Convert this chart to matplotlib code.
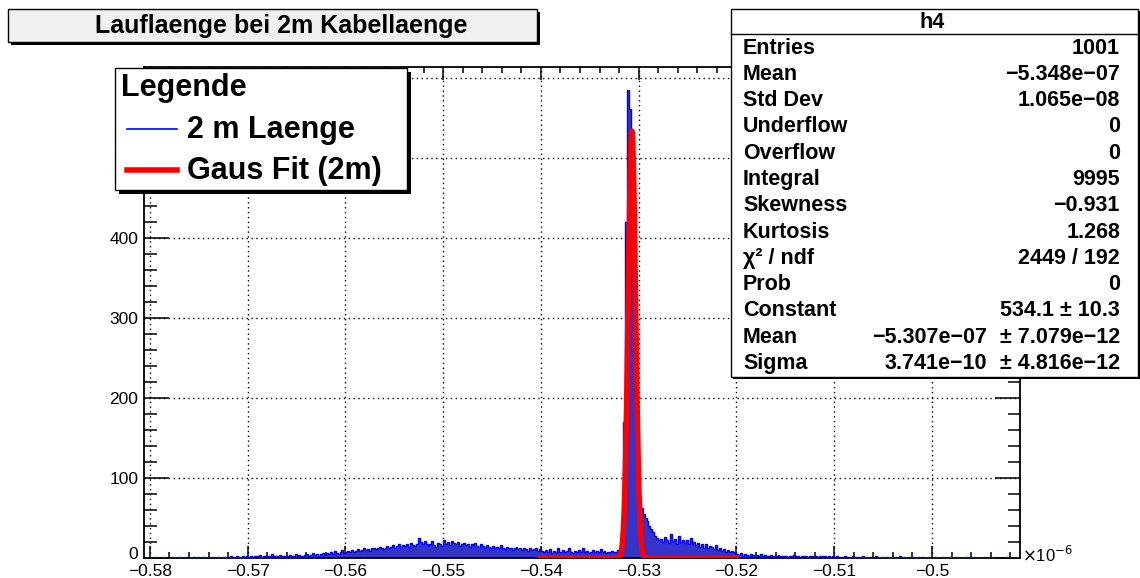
import numpy as np
import matplotlib
matplotlib.use("agg")
from matplotlib import pyplot as plt
from matplotlib.patches import Rectangle
from matplotlib.lines import Line2D
from matplotlib.ticker import MultipleLocator
from matplotlib.transforms import ScaledTranslation

plt.rcParams['font.family'] = ['Liberation Sans', 'DejaVu Sans']

W, H = 1140, 578

# histogram h4, x in units of 1e-6, bins of 2e-4
x_lo = -0.5806
bin_w = 0.0002
counts_edge = [0, 0, 0]
counts_058 = [0, 0, 1, 0, 0, 0, 1, 0, 0, 0, 0, 1, 0, 0, 0, 1, 0, 0, 1, 0,
              0, 0, 1, 0, 1, 0, 0, 1, 0, 0, 1, 0, 1, 0, 0, 1, 0, 1, 1, 0,
              1, 2, 1, 0, 2, 1, 1, 2, 1, 2]
counts_057 = [1, 2, 1, 3, 2, 2, 4, 1, 3, 2, 2, 3, 5, 2, 3, 2, 4, 3, 2, 3,
              3, 4, 2, 3, 5, 3, 4, 3, 2, 4, 5, 3, 4, 6, 4, 5, 3, 5, 6, 4,
              6, 5, 7, 5, 9, 6, 5, 8, 10, 6]
counts_056 = [8, 9, 7, 10, 8, 9, 11, 9, 10, 12, 10, 11, 9, 12, 13, 11, 12, 14, 12, 11,
              13, 15, 12, 14, 16, 13, 15, 18, 14, 16, 15, 17, 14, 19, 16, 15, 18, 25, 20, 17,
              21, 18, 15, 17, 21, 16, 14, 19, 17, 15]
counts_055 = [22, 18, 20, 16, 21, 19, 17, 20, 15, 18, 19, 16, 18, 14, 17, 16, 19, 15, 14, 17,
              15, 13, 16, 14, 12, 15, 13, 14, 12, 16, 13, 11, 14, 12, 13, 10, 12, 14, 11, 12,
              10, 13, 11, 9, 12, 10, 11, 13, 9, 11]
counts_054 = [9, 7, 10, 8, 11, 6, 9, 8, 12, 7, 8, 10, 7, 9, 13, 8, 6, 9, 7, 10,
              8, 12, 7, 9, 6, 8, 10, 7, 9, 8, 11, 7, 9, 6, 8, 7, 9, 8, 7, 10,
              9, 25, 170, 420, 585, 561, 470, 330, 190, 110]
counts_053 = [75, 62, 55, 50, 46, 40, 36, 32, 28, 25, 22, 24, 20, 26, 22, 19, 30, 21, 24, 18,
              27, 20, 23, 19, 22, 17, 25, 18, 20, 16, 19, 14, 17, 13, 18, 12, 15, 14, 11, 16,
              10, 12, 9, 11, 8, 10, 7, 9, 8, 6]
counts_052 = [5, 4, 6, 3, 5, 4, 3, 5, 4, 3, 4, 2, 5, 3, 4, 3, 2, 4, 3, 2,
              3, 4, 2, 3, 2, 3, 1, 3, 2, 4, 2, 3, 1, 2, 3, 2, 1, 3, 2, 1,
              2, 1, 3, 2, 1, 2, 1, 2, 1, 2]
counts_051 = [1, 2, 1, 0, 1, 2, 1, 1, 0, 2, 1, 0, 1, 1, 2, 0, 1, 0, 1, 1,
              0, 2, 1, 0, 1, 0, 1, 1, 0, 1, 0, 1, 0, 2, 0, 1, 0, 0, 1, 0,
              1, 0, 0, 1, 0, 1, 0, 0, 1, 0]
counts_050 = [0, 1, 0, 0, 0, 1, 0, 0, 1, 0, 0, 0, 1, 0, 0, 0, 0, 1, 0, 0,
              0, 1, 0, 0, 0, 0, 1, 0, 0, 0, 0, 0, 1, 0, 0, 0, 0, 0, 1, 0,
              0, 0, 0, 0, 0]
counts = np.array(counts_edge + counts_058 + counts_057 + counts_056 + counts_055
                  + counts_054 + counts_053 + counts_052 + counts_051 + counts_050)

# gaus fit (from stats box), fitted on [-0.54, -0.52]
fit_const = 534.1
fit_mean = -0.5307
fit_sigma = 0.0003741
fit_range = (-0.54, -0.52)

xticks = [-0.58, -0.57, -0.56, -0.55, -0.54, -0.53, -0.52, -0.51, -0.50]
xtick_labels = ["\u22120.58", "\u22120.57", "\u22120.56", "\u22120.55", "\u22120.54",
                "\u22120.53", "\u22120.52", "\u22120.51", "\u22120.5"]
yticks = [0, 100, 200, 300, 400, 500, 600]
ytick_labels = ["0", "100", "200", "300", "400", "", ""]  # 500/600 sit behind the legend
y_max = 614

title = "Lauflaenge bei 2m Kabellaenge"
legend_title = "Legende"
legend_labels = ["2 m Laenge", "Gaus Fit (2m)"]

stat_names = ["Entries", "Mean", "Std Dev", "Underflow", "Overflow", "Integral",
              "Skewness", "Kurtosis", "\u03c7\u00b2 / ndf", "Prob", "Constant", "Mean", "Sigma"]
stat_values = ["1001", "\u22125.348e\u221207", "1.065e\u221208", "0", "0", "9995",
               "\u22120.931", "1.268", "2449 / 192", "0", "534.1 \u00b1 10.3",
               "\u22125.307e\u221207", "3.741e\u221210"]
stat_errors = ["", "", "", "", "", "", "", "", "", "", "",
               "\u00b1 7.079e\u221212", "\u00b1 4.816e\u221212"]


def fx(px):
    return px / W


def fy(py):
    return 1 - py / H


def box(x0, y0, x1, y1, face, shadow=0, lw=1.0, z=5):
    if shadow:
        fig.add_artist(Rectangle((fx(x0 + shadow), fy(y1 + shadow)), (x1 - x0) / W, (y1 - y0) / H,
                                 transform=fig.transFigure, facecolor="black", edgecolor="none", zorder=z))
    fig.add_artist(Rectangle((fx(x0), fy(y1)), (x1 - x0) / W, (y1 - y0) / H,
                             transform=fig.transFigure, facecolor=face, edgecolor="black", lw=lw, zorder=z))


fig = plt.figure(figsize=(W / 100, H / 100), dpi=100)
ax = fig.add_axes([fx(144), fy(558), (1020 - 144) / W, (558 - 67) / H])

edges = x_lo + bin_w * np.arange(len(counts) + 1)
ax.stairs(counts, edges, fill=True, color="#3434c9", zorder=2)
ax.stairs(counts, edges, color="#0000ff", lw=1.0, zorder=3)

xf = np.linspace(fit_range[0], fit_range[1], 800)
ax.plot(xf, fit_const * np.exp(-0.5 * ((xf - fit_mean) / fit_sigma) ** 2),
        color="#ff0000", lw=4.0, zorder=4)

ax.set_xlim(edges[0], edges[-1])
ax.set_ylim(0, y_max)
ax.set_xticks(xticks, labels=xtick_labels)
ax.set_yticks(yticks, labels=ytick_labels)
ax.xaxis.set_minor_locator(MultipleLocator(0.002))
ax.yaxis.set_minor_locator(MultipleLocator(20))
ax.tick_params(axis="x", which="major", direction="in", length=9, width=1.1,
               top=True, labelsize=12.5, pad=4.5)
ax.tick_params(axis="x", which="minor", direction="in", length=4.5, width=1.1, top=True)
ax.tick_params(axis="y", which="major", direction="in", length=18, width=1.1,
               right=True, labelsize=12.5, pad=4)
ax.tick_params(axis="y", which="minor", direction="in", length=9, width=1.1, right=True)
ax.set_axisbelow(True)
ax.grid(True, which="major", color="black", linestyle=(0, (1, 2.5)), lw=1.0)
for sp in ax.spines.values():
    sp.set_linewidth(1.3)

# lift the "0" label a little so it clears the first x label
zero_lab = ax.get_yticklabels()[0]
zero_lab.set_transform(zero_lab.get_transform() + ScaledTranslation(0, 5 / 100, fig.dpi_scale_trans))

fig.text(fx(1022), fy(555), r"$\times$10$^{-6}$", fontsize=12, ha="left", va="center")

# title box
box(8, 9, 537, 42, "#f0f0f0", shadow=3)
fig.text(fx(281), fy(26), title, fontsize=18, fontweight="bold", ha="center", va="center", zorder=6)

# legend
box(115, 68, 407, 190, "white", shadow=4)
fig.text(fx(121), fy(88), legend_title, fontsize=22, fontweight="bold", ha="left", va="center", zorder=6)
legend_colors = ["#0000ff", "#ff0000"]
legend_lw = [1.2, 4.0]
legend_y = [129, 170]
for lab, col, lw, ly in zip(legend_labels, legend_colors, legend_lw, legend_y):
    fig.add_artist(Line2D([fx(127), fx(177)], [fy(ly), fy(ly)], transform=fig.transFigure,
                          color=col, lw=lw, zorder=6))
    fig.text(fx(187), fy(ly + 1), lab, fontsize=22, fontweight="bold", ha="left", va="center", zorder=6)

# stats box
box(731, 9, 1138, 377, "white", shadow=2)
fig.add_artist(Line2D([fx(731), fx(1138)], [fy(34), fy(34)], transform=fig.transFigure,
                      color="black", lw=1, zorder=6))
fig.text(fx(932), fy(22), "h4", fontsize=15.5, fontweight="bold", ha="center", va="center", zorder=6)
for i, (nm, val, err) in enumerate(zip(stat_names, stat_values, stat_errors)):
    yy = 48 + i * 26.3
    fig.text(fx(743), fy(yy), nm, fontsize=15.5, fontweight="bold", ha="left", va="center", zorder=6)
    if err:
        fig.text(fx(987), fy(yy), val, fontsize=15.5, fontweight="bold", ha="right", va="center", zorder=6)
        fig.text(fx(1120), fy(yy), err, fontsize=15.5, fontweight="bold", ha="right", va="center", zorder=6)
    else:
        fig.text(fx(1120), fy(yy), val, fontsize=15.5, fontweight="bold", ha="right", va="center", zorder=6)

fig.savefig("out.png", dpi=100)
